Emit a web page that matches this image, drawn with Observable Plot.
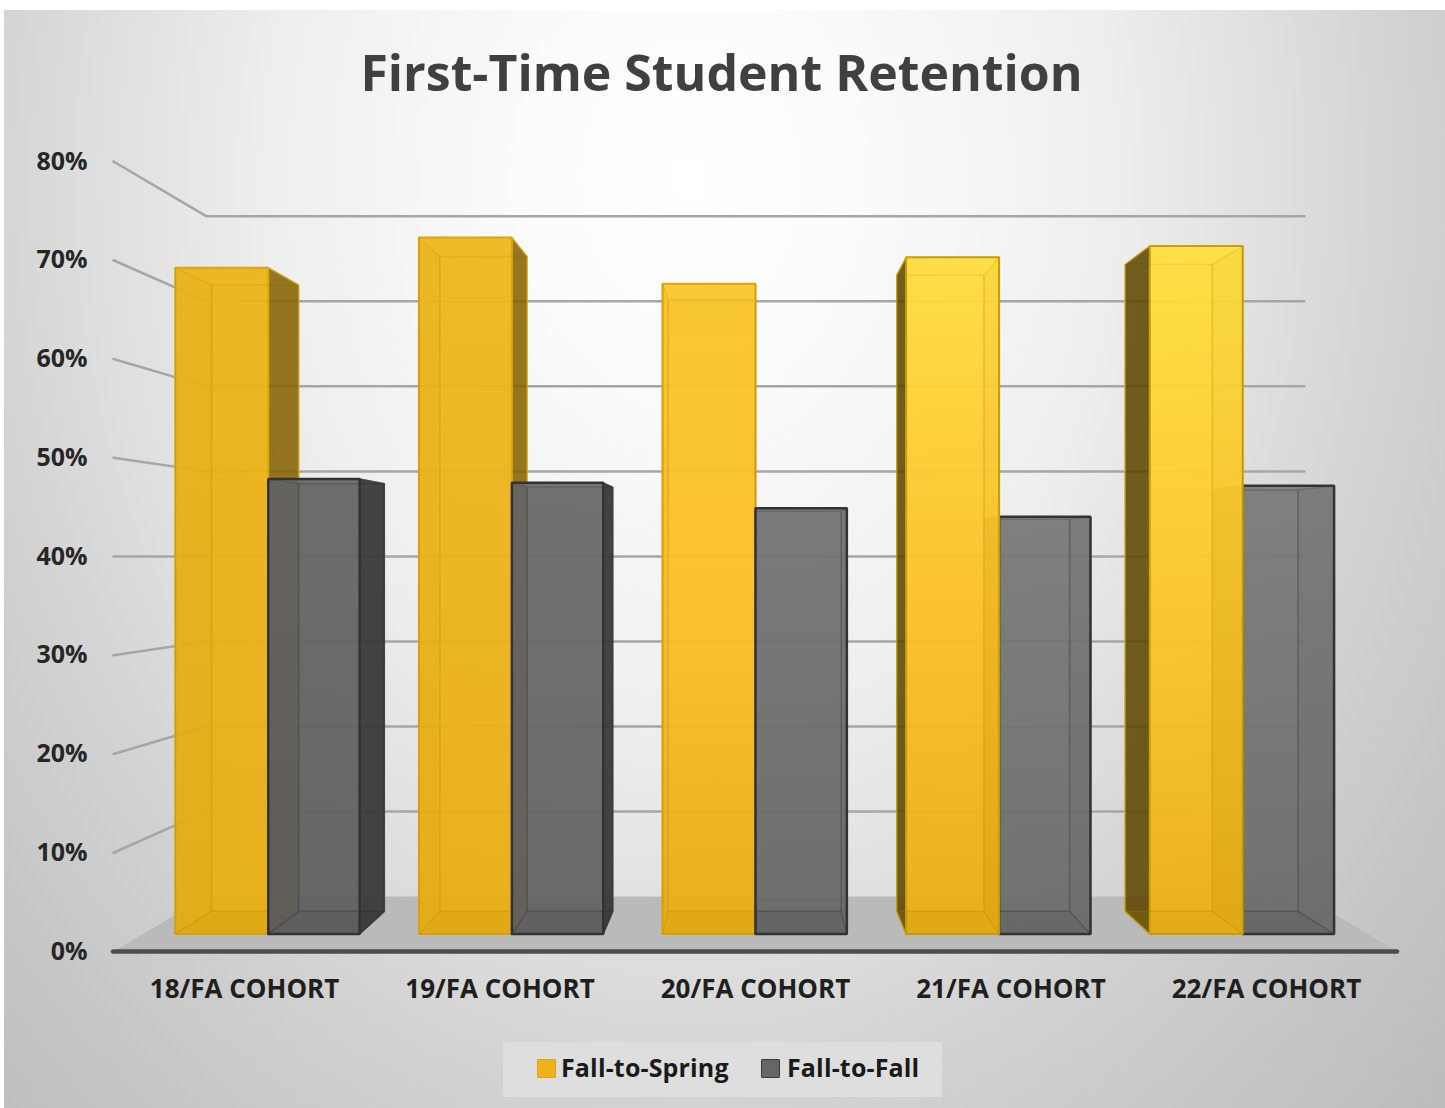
<!DOCTYPE html>
<html><head><meta charset="utf-8">
<script src="https://cdn.jsdelivr.net/npm/d3@7"></script>
<script src="https://cdn.jsdelivr.net/npm/@observablehq/plot@0.6"></script>
<style>
html,body{margin:0;padding:0;background:#fff;width:1445px;height:1108px;overflow:hidden}
#bg{position:absolute;left:4px;top:10px;width:1441px;height:1098px;
 background:radial-gradient(1030px 1330px at 686px 170px,#fff 0%,#fbfbfb 16%,#efefef 40%,#e0e0e0 56%,#d1d1d1 71%,#bcbcbc 100%)}
h1{position:absolute;left:0;top:36px;width:1445px;margin:0;text-align:center;padding-right:2px;box-sizing:border-box;font:700 50px "Open Sans",sans-serif;line-height:72px;color:#404040}
#plot{position:absolute;left:0;top:130px}
#legend{position:absolute;left:503px;top:1042px;width:439px;height:55px;background:#dedede;font:700 25px "Open Sans",sans-serif;color:#1a1a1a;letter-spacing:.15px}
#legend i{position:absolute;top:17px;width:17px;height:17px;border:1.5px solid;border-radius:1px}
#legend span{position:absolute;top:8px;line-height:34px}
</style></head><body>
<div id="bg"></div>
<h1>First-Time Student Retention</h1>
<div id="plot"></div>
<div id="legend">
<i style="left:34px;background:#eeb31a;border-color:#d9a520"></i><span style="left:58px">Fall-to-Spring</span>
<i style="left:258px;background:#666;border-color:#3c3c3c"></i><span style="left:284px">Fall-to-Fall</span>
</div>
<script>
const cohorts = ["18/FA COHORT","19/FA COHORT","20/FA COHORT","21/FA COHORT","22/FA COHORT"];
const fallToSpring = [70.6,73.8,68.9,71.7,72.9];
const fallToFall = [48.2,47.8,45.1,44.2,47.5];
const yTicks = [0,10,20,30,40,50,60,70,80];

// Excel-style perspective: depth 0 = axis plane, depth 1 = back wall
const px = (u,d) => 2 + (u-2)*(1-0.145*d);
const py = (v,d) => 5.57*d + v*(1-0.139*d);
const D0 = 0.32, D1 = 0.73, WG = 0.3816, WF = 0.375, XMIN = -0.513, XMAX = 4.513;

const faces = [];
let fid = 0;
function face(pts, style){
  const id = fid++;
  [...pts, pts[0]].forEach(([u,v,d]) => faces.push({id, x:px(u,d), y:py(v,d), ...style}));
}
function bar(i, u0, u1, val, s){
  const L0=[u0,0,D0],L1=[u0,val,D0],R0=[u1,0,D0],R1=[u1,val,D0];
  const l0=[u0,0,D1],l1=[u0,val,D1],r0=[u1,0,D1],r1=[u1,val,D1];
  const edge = s.edge(i);
  const rightVisible = px(u1,D1) > px(u1,D0);
  const leftVisible = px(u0,D1) < px(u0,D0);
  const inner = {fill:s.front,fo:s.innerOp,stroke:edge,so:0.3,sw:1.5};
  face([l0,r0,r1,l1],{fill:s.front,fo:s.backOp,stroke:edge,so:0.4,sw:1.5}); // back
  face([L0,R0,r0,l0],{fill:s.floor,fo:s.floorOp,stroke:edge,so:0.4,sw:1.5}); // bottom
  face([L1,R1,r1,l1],{fill:s.front,fo:s.innerOp,stroke:edge,so:0.35,sw:1.5}); // top
  // side faces: the one turned toward the chart centre is seen from outside
  face([R0,r0,r1,R1], rightVisible ? {fill:s.sideR,fo:s.sideOp,stroke:edge,so:0.7,sw:1.5} : inner);
  face([L0,l0,l1,L1], leftVisible ? {fill:s.sideL,fo:s.sideOp,stroke:edge,so:0.7,sw:1.5} : inner);
  face([L0,R0,R1,L1],{fill:s.fill(i),fo:s.frontOp,stroke:edge,so:1,sw:s.frontSw}); // front
  // hidden edges and far faces showing faintly through the translucent front
  const ghost = {fill:s.ghost,fo:.06,stroke:s.ghost,so:s.ghostLine,sw:1.5};
  face([l0,r0,r1,l1],{...ghost,fo:0});
  face([L0,R0,r0,l0],{...ghost,fo:.12});
  if (!rightVisible) face([R0,r0,r1,R1],ghost);
  if (!leftVisible) face([L0,l0,l1,L1],ghost);
}
const gold = {front:"#e2a90f",floor:"#c99508",edge:i=>i<3?"#d9a70f":"#c9a005",sideR:"#7d5c00",sideL:"#523d00",ghost:"#b98a00",ghostLine:.14,
  backOp:.35,innerOp:.28,floorOp:.5,sideOp:.8,frontOp:.93,frontSw:2,fill:i=>`url(#gold${i})`};
const grey = {front:"#5a5a5a",floor:"#4a4a4a",edge:()=>"#333333",sideR:"#3a3a3a",sideL:"#3f3f3f",ghost:"#3a3a3a",ghostLine:.16,
  backOp:.45,innerOp:.3,floorOp:.5,sideOp:.92,frontOp:.9,frontSw:2.5,fill:i=>`url(#grey${i})`};
cohorts.forEach((c,i)=>{
  const drawGold = () => bar(i,i-WG,i,fallToSpring[i],gold);
  const drawGrey = () => bar(i,i,i+WF,fallToFall[i],grey);
  if (i<=2){drawGold();drawGrey();} else {drawGrey();drawGold();}
});

const gridRows = yTicks.slice(1).flatMap(v => [
  {v,x:px(XMIN,0),y:py(v,0)},{v,x:px(XMIN,1),y:py(v,1)},{v,x:px(XMAX,1),y:py(v,1)}
]);
const floor = [[XMIN,0],[XMAX,0],[XMAX,1],[XMIN,1]].map(([u,d])=>({x:px(u,d),y:py(0,d)}));

const goldStops = [
  ["#edb41b","#ebb118","#e8ae14"],
  ["#f0b71e","#edb31a","#e9ae14"],
  ["#fbc62c","#fcc025","#e9ad12"],
  ["#ffde40","#fdc228","#eaad14"],
  ["#ffe040","#fdc82c","#ecb016"]
];
const greyStops = [
  ["#666666","#5f5f5f"],
  ["#6a6a6a","#636363"],
  ["#747474","#686868"],
  ["#7a7a7a","#6c6c6c"],
  ["#7c7c7c","#6c6c6c"]
];
const defs = () => {
  const d = d3.create("svg:defs");
  const add = (name,stops) => stops.forEach((st,i)=>{
    const g = d.append("linearGradient").attr("id",`${name}${i}`).attr("x1",0).attr("y1",0).attr("x2",0).attr("y2",1);
    st.forEach((c,j)=>g.append("stop").attr("offset",j/(st.length-1)).attr("stop-color",c));
  });
  add("gold",goldStops); add("grey",greyStops);
  return d.node();
};

const chart = Plot.plot({
  width:1445, height:880,
  marginLeft:113, marginRight:48, marginTop:31, marginBottom:59,
  style:{background:"transparent",overflow:"visible"},
  x:{domain:[XMIN,XMAX],axis:null},
  y:{domain:[0,80],axis:null},
  marks:[
    defs,
    Plot.line(gridRows,{x:"x",y:"y",z:"v",stroke:"#a6a6a6",strokeWidth:2.5}),
    Plot.line([...floor,floor[0]],{x:"x",y:"y",fill:"#bababa",stroke:"none"}),
    Plot.ruleY([0],{stroke:"#4d4d4d",strokeWidth:4.5,strokeLinecap:"round"}),
    Plot.line(faces,{x:"x",y:"y",z:"id",
      fill:{value:"fill",scale:null},
      fillOpacity:{value:"fo",scale:null},
      stroke:{value:"stroke",scale:null},
      strokeOpacity:{value:"so",scale:null},
      strokeWidth:{value:"sw",scale:null},
      strokeLinejoin:"miter"}),
    Plot.axisY(yTicks,{anchor:"left",tickSize:0,tickPadding:26,tickFormat:d=>d+"%",
      fontSize:25,fontWeight:700,fontFamily:"Open Sans",fill:"#262626",label:null}),
    Plot.axisX([0,1,2,3,4],{anchor:"bottom",tickSize:0,tickPadding:28,tickFormat:i=>cohorts[i],
      fontSize:26,fontWeight:700,fontFamily:"Open Sans",fill:"#1f1f1f",label:null})
  ]
});
document.getElementById("plot").append(chart);
</script>
</body></html>
